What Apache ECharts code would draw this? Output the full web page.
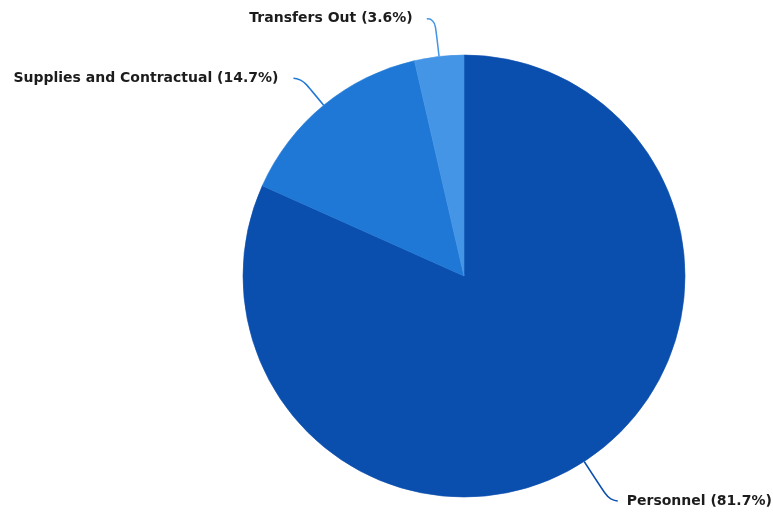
<!DOCTYPE html>
<html>
<head>
<meta charset="utf-8">
<script src="https://cdn.jsdelivr.net/npm/echarts@6/dist/echarts.min.js"></script>
<style>html,body{margin:0;padding:0;background:#fff;}#c{width:773px;height:512px;}</style>
</head>
<body>
<div id="c"></div>
<script>
const categories = ['Personnel', 'Supplies and Contractual', 'Transfers Out'];
const values = [81.7, 14.7, 3.6];
const colors = ['#0b4fae', '#1f78d6', '#4595e6'];
const lineLengths = [47, 35, 38];
const labelGaps = [9, 15, 14];

const chart = echarts.init(document.getElementById('c'), null, {renderer: 'canvas'});
chart.setOption({
  animation: false,
  backgroundColor: '#ffffff',
  series: [{
    type: 'pie',
    center: [464, 276],
    radius: 221,
    startAngle: 90,
    clockwise: true,
    avoidLabelOverlap: false,
    data: categories.map((c, i) => ({
      name: c,
      value: values[i],
      itemStyle: {color: colors[i], borderColor: colors[i], borderWidth: 0.6},
      label: {distanceToLabelLine: labelGaps[i]},
      labelLine: {length: lineLengths[i], lineStyle: {color: colors[i]}}
    })),
    label: {
      show: true,
      position: 'outside',
      formatter: p => p.name + ' (' + p.value.toFixed(1) + '%)',
      fontFamily: 'DejaVu Sans',
      fontWeight: 'bold',
      fontSize: 14,
      color: '#1c1c1c'
    },
    labelLine: {
      show: true,
      length2: 8,
      smooth: 0.6,
      lineStyle: {width: 1.5}
    }
  }]
});
</script>
</body>
</html>
